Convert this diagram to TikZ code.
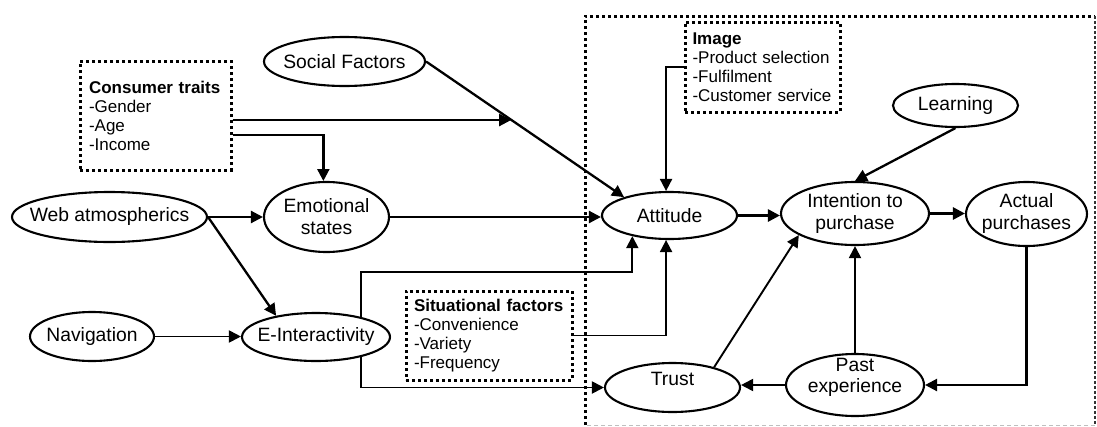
\documentclass[tikz,border=0pt]{standalone}
\usepackage{fontspec}
\setmainfont{Liberation Sans}
\usetikzlibrary{arrows.meta,shapes.geometric}
\begin{document}
\begin{tikzpicture}[x=1pt,y=-1pt,
  ell/.style={draw, ellipse, line width=2.1pt, inner xsep=-30pt, inner ysep=-12pt,
    align=center, font=\fontsize{19.3}{22}\selectfont},
  lbl/.style={inner sep=0pt, align=center, font=\fontsize{19.3}{21}\selectfont},
  tbox/.style={draw, rectangle, line width=3pt, dash pattern=on 3pt off 3pt,
    inner ysep=0pt, align=left, font=\fontsize{17}{19}\selectfont},
  dotline/.style={line width=3pt, dash pattern=on 3pt off 3pt},
  arr/.style={line width=2.3pt, -{Triangle[length=12pt,width=12pt]}},
  tarr/.style={line width=1.9pt, -{Triangle[length=12pt,width=12pt]}},
]
\useasboundingbox (0,0) rectangle (1097,426);

% frame around the purchase stage
\coordinate (f1) at (585,16);
\coordinate (f2) at (1095,16);
\coordinate (f3) at (1095,425);
\coordinate (f4) at (585,425);
\draw[dotline] (f4) -- (f1) -- (f2);
\draw[line width=1.5pt, black!80, dash pattern=on 3pt off 2pt] (f2) -- (f3);
\draw[gray!50, line width=1pt, dash pattern=on 4pt off 3pt] (f3) -- (f4);

% constructs
\node[ell, minimum width=161pt, minimum height=49pt] (soc) at (344.5,61.5) {Social Factors};
\node[ell, minimum width=195pt, minimum height=50pt] (web) at (109.5,217) {Web atmospherics};
\node[ell, minimum width=125pt, minimum height=70pt] (emo) at (326.5,217) {Emotional\\states};
\node[ell, minimum width=124pt, minimum height=49pt] (nav) at (92,336.5) {Navigation};
\node[ell, minimum width=148pt, minimum height=48pt] (eint) at (316,337) {E-Interactivity};
\node[ell, minimum width=135pt, minimum height=47pt] (att) at (669.5,215.5) {Attitude};
\node[ell, minimum width=148pt, minimum height=63pt] (int) at (855,213.5) {Intention to\\purchase};
\node[ell, minimum width=121pt, minimum height=64pt] (act) at (1026.5,214) {Actual\\purchases};
\node[ell, minimum width=125pt, minimum height=43pt] (lrn) at (955.5,105.5) {Learning};
\node[ell, minimum width=135pt, minimum height=49pt,
  label={[lbl, yshift=9pt]center:Trust}] (trust) at (672.5,387.5) {};
\node[ell, minimum width=138pt, minimum height=62pt,
  label={[lbl, yshift=8pt]center:{Past\\experience}}] (past) at (855,385) {};

% factor boxes
\node[tbox, text width=133pt, inner xsep=9pt, minimum height=109pt] (ct) at (155.5,115.5)
  {\textbf{Consumer traits}\\-Gender\\-Age\\-Income};
\node[tbox, text width=140pt, inner xsep=7.5pt, minimum height=90pt] (img) at (762.5,67)
  {\textbf{Image}\\-Product selection\\-Fulfilment\\-Customer service};
\node[tbox, text width=150pt, inner xsep=8pt, minimum height=89pt] (sit) at (489,335.5)
  {\textbf{Situational factors}\\-Convenience\\-Variety\\-Frequency};

% links
\draw[arr] (soc.east) -- coordinate[pos=0.43] (meet) (att.158);
\coordinate (ct1) at ([yshift=-4.5pt]ct.east);
\coordinate (ct2) at ([yshift=-19.5pt]ct.east);
\draw[arr] (ct1) -- (ct1 -| meet);
\draw[arr] (ct2) -| (emo.95);

\draw[arr] (web.east) -- (web.east -| emo.west);
\draw[arr] (web.east) -- (eint.152);
\draw[tarr] (nav.east) -- (nav.east -| eint.west);
\draw[arr] (emo.east) -- (emo.east -| att.west);

\draw[arr, line width=2.7pt] (att.east) -- (att.east -| int.west);
\draw[arr, line width=2.7pt] (int.east) -- (int.east -| act.west);
\draw[arr] (lrn.south) -- (int.north);

\draw[tarr] (img.west) -| (att.98);
\draw[tarr] (sit.east) -| (att.262);
\coordinate (lvl) at (0,272);
\draw[tarr] (eint.24) |- (att.209 |- lvl) -- (att.209);
\draw[tarr] (eint.-24) |- (trust.west);

\draw[tarr] (trust.26) -- (int.201);
\draw[tarr] (past.north) -- (int.south);
\draw[tarr] (past.west) -- (past.west -| trust.east);
\draw[arr] (act.south) |- (past.east);
\end{tikzpicture}
\end{document}
